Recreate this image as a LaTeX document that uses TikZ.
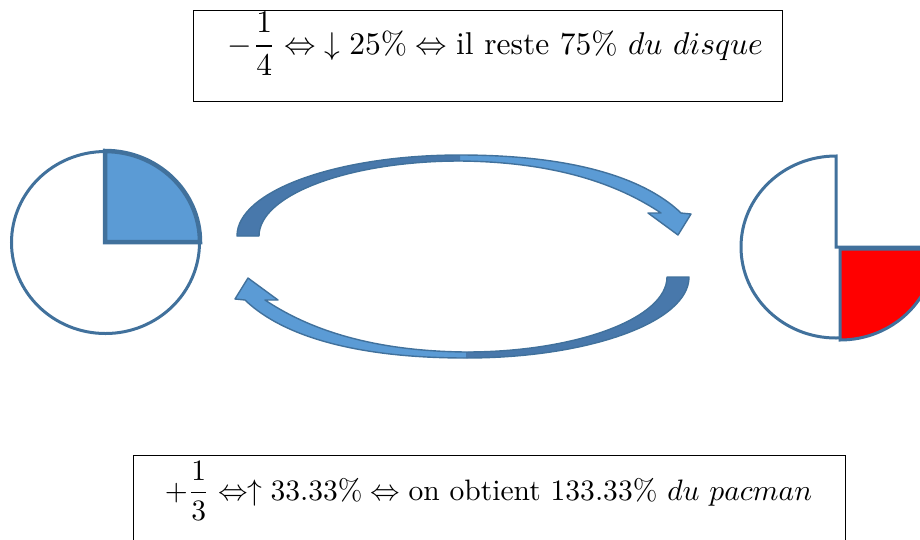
\documentclass[tikz,border=0pt]{standalone}
\usepackage{amsmath}
\usepackage{graphicx}
\definecolor{edgeblue}{HTML}{41719C}
\definecolor{lightblue}{HTML}{5B9BD5}
\definecolor{darkblue}{HTML}{4878AB}
\tikzset{
  disc/.style={draw=edgeblue, line width=3pt, fill=white},
  slice/.style={draw=edgeblue, line width=4.5pt, fill=lightblue, line join=miter},
  redslice/.style={draw=edgeblue, line width=3pt, fill=red},
  framebox/.style={draw=black, line width=0.9pt, inner sep=0pt},
  formula/.style={anchor=base, inner sep=0pt},
  arrowedge/.style={draw=edgeblue, line width=1.4pt, line join=round},
}
\begin{document}
\begin{tikzpicture}[x=1pt, y=-1pt]
\useasboundingbox (0,0) rectangle (920,539);
\clip (0,0) rectangle (920,539);

% text boxes
\node[framebox, minimum width=589pt, minimum height=91pt] (topbox) at (487.5,55.5) {};
\node[formula] (toptext) at (495.5,54)
  {\resizebox{535pt}{!}{$-\dfrac{1}{4}\Leftrightarrow\;\downarrow 25\%\Leftrightarrow\text{il reste }75\%\ du\ disque$}};
\node[framebox, minimum width=712pt, minimum height=90pt] (botbox) at (489,500) {};
\node[formula] (bottext) at (488.5,500)
  {\resizebox{647pt}{!}{$+\dfrac{1}{3}\Leftrightarrow\uparrow 33.33\%\Leftrightarrow\text{on obtient }133.33\%\ du\ pacman$}};

% left disc with blue quarter
\draw[disc] (105.5,242.5) ellipse [x radius=94pt, y radius=91pt];
\draw[slice] (105,242) -- (105,151)
  arc[start angle=90, end angle=0, x radius=95pt, y radius=91pt] -- cycle;

% right pacman with red quarter
\draw[disc] (836,156) -- (836,247) -- (931,247)
  arc[start angle=0, end angle=-270, x radius=95pt, y radius=91pt] -- cycle;
\draw[redslice] (840,249) -- (935,249)
  arc[start angle=0, end angle=-90, x radius=95pt, y radius=91pt] -- cycle;

% curved arrows
\foreach \ang in {0,180}{
\begin{scope}[rotate around={\ang:(463,256.5)}]
  \fill[lightblue] (237,236) .. controls (237,191) and (337,155) .. (460,155)
    .. controls (585,155) and (650,183) .. (681,213) -- (691,214) -- (678,235)
    -- (648,213) -- (661,213) .. controls (625,189) and (565,162) .. (460,161)
    .. controls (349,161) and (259,195) .. (259,236) -- cycle;
  \fill[darkblue] (237,236) .. controls (237,191) and (337,155) .. (460,155)
    -- (460,161) .. controls (349,161) and (259,195) .. (259,236) -- cycle;
  \draw[arrowedge] (237,236) .. controls (237,191) and (337,155) .. (460,155)
    .. controls (585,155) and (650,183) .. (681,213) -- (691,214) -- (678,235)
    -- (648,213) -- (661,213) .. controls (625,189) and (565,162) .. (460,161)
    .. controls (349,161) and (259,195) .. (259,236) -- cycle;
\end{scope}
}
\end{tikzpicture}
\end{document}
